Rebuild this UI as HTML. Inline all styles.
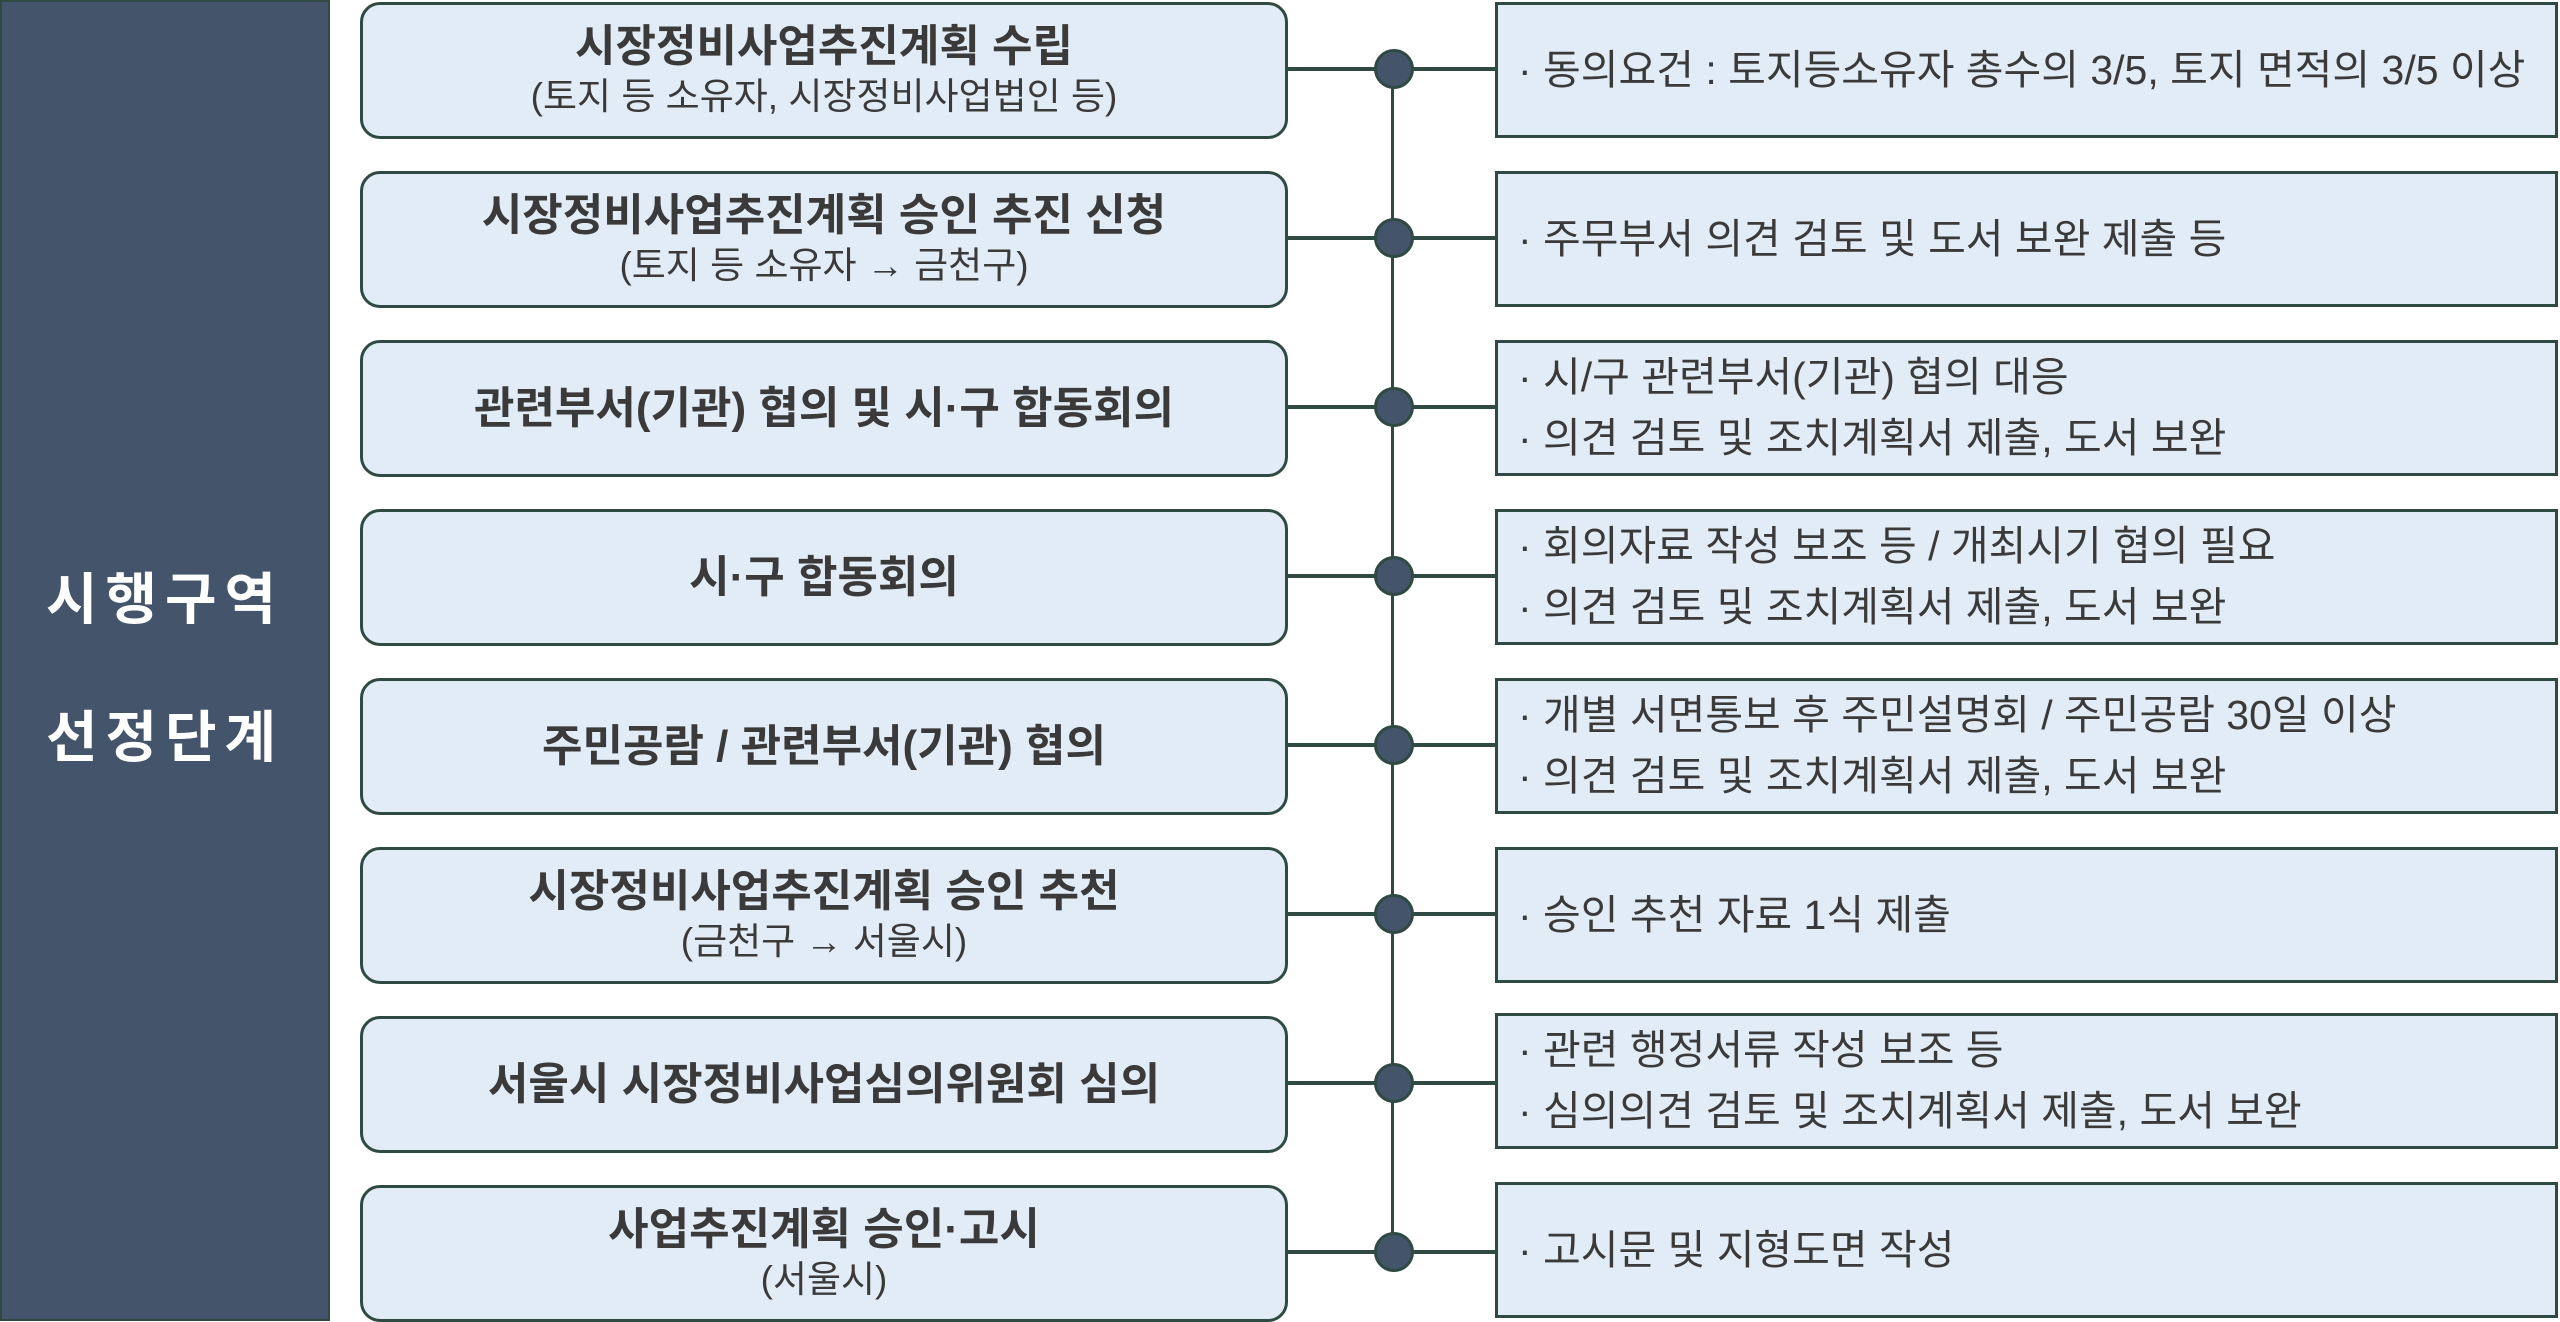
<!DOCTYPE html>
<html><head><meta charset="utf-8"><style>
body{margin:0;width:2560px;height:1321px;background:#fff;position:relative;overflow:hidden;font-family:"Liberation Sans","Noto Sans CJK KR",sans-serif;color:#3a3a3a}
.panel{position:absolute;left:0;top:0;width:326px;height:1317px;background:#44546a;border:2px solid #2f4a42}
.ptxt{position:absolute;left:0;width:330px;text-align:center;color:#fff;font-weight:bold;font-size:56px;letter-spacing:8px}
.lb{position:absolute;left:360px;width:922px;height:131px;background:#e2ecf7;border:3px solid #2f4a42;border-radius:20px;box-sizing:content-box;display:flex;flex-direction:column;justify-content:center;align-items:center;text-align:center}
.lb .t{font-weight:bold;font-size:44px;line-height:52px}
.lb .s{font-size:37px;line-height:48px}
.rb{position:absolute;left:1495px;width:1037px;height:130px;background:#e2ecf7;border:3px solid #2f4a42;display:flex;flex-direction:column;justify-content:center;padding-left:20px;box-sizing:content-box;font-size:41px;line-height:61px;white-space:nowrap}
.h{position:absolute;left:1285px;width:212px;height:4px;background:#2f4a42}
.dot{position:absolute;left:1374px;width:34px;height:34px;border-radius:50%;background:#44546a;border:3px solid #2f4a42}
.v{position:absolute;left:1391px;top:68px;width:3px;height:1182px;background:#2f4a42}
</style></head><body>
<div class="panel"></div>
<div class="ptxt" style="top:555px">시행구역</div>
<div class="ptxt" style="top:693px">선정단계</div>
<div class="v"></div>

<div class="lb" style="top:2px"><div class="t">시장정비사업추진계획 수립</div><div class="s">(토지 등 소유자, 시장정비사업법인 등)</div></div>
<div class="lb" style="top:171px"><div class="t">시장정비사업추진계획 승인 추진 신청</div><div class="s">(토지 등 소유자 → 금천구)</div></div>
<div class="lb" style="top:340px"><div class="t">관련부서(기관) 협의 및 시·구 합동회의</div></div>
<div class="lb" style="top:509px"><div class="t">시·구 합동회의</div></div>
<div class="lb" style="top:678px"><div class="t">주민공람 / 관련부서(기관) 협의</div></div>
<div class="lb" style="top:847px"><div class="t">시장정비사업추진계획 승인 추천</div><div class="s">(금천구 → 서울시)</div></div>
<div class="lb" style="top:1016px"><div class="t">서울시 시장정비사업심의위원회 심의</div></div>
<div class="lb" style="top:1185px"><div class="t">사업추진계획 승인·고시</div><div class="s">(서울시)</div></div>

<div class="h" style="top:67px"></div><div class="dot" style="top:49px"></div>
<div class="h" style="top:236px"></div><div class="dot" style="top:218px"></div>
<div class="h" style="top:405px"></div><div class="dot" style="top:387px"></div>
<div class="h" style="top:574px"></div><div class="dot" style="top:556px"></div>
<div class="h" style="top:743px"></div><div class="dot" style="top:725px"></div>
<div class="h" style="top:912px"></div><div class="dot" style="top:894px"></div>
<div class="h" style="top:1081px"></div><div class="dot" style="top:1063px"></div>
<div class="h" style="top:1250px"></div><div class="dot" style="top:1232px"></div>

<div class="rb" style="top:2px"><div>· 동의요건 : 토지등소유자 총수의 3/5, 토지 면적의 3/5 이상</div></div>
<div class="rb" style="top:171px"><div>· 주무부서 의견 검토 및 도서 보완 제출 등</div></div>
<div class="rb" style="top:340px"><div>· 시/구 관련부서(기관) 협의 대응</div><div>· 의견 검토 및 조치계획서 제출, 도서 보완</div></div>
<div class="rb" style="top:509px"><div>· 회의자료 작성 보조 등 / 개최시기 협의 필요</div><div>· 의견 검토 및 조치계획서 제출, 도서 보완</div></div>
<div class="rb" style="top:678px"><div>· 개별 서면통보 후 주민설명회 / 주민공람 30일 이상</div><div>· 의견 검토 및 조치계획서 제출, 도서 보완</div></div>
<div class="rb" style="top:847px"><div>· 승인 추천 자료 1식 제출</div></div>
<div class="rb" style="top:1013px"><div>· 관련 행정서류 작성 보조 등</div><div>· 심의의견 검토 및 조치계획서 제출, 도서 보완</div></div>
<div class="rb" style="top:1182px"><div>· 고시문 및 지형도면 작성</div></div>
</body></html>
